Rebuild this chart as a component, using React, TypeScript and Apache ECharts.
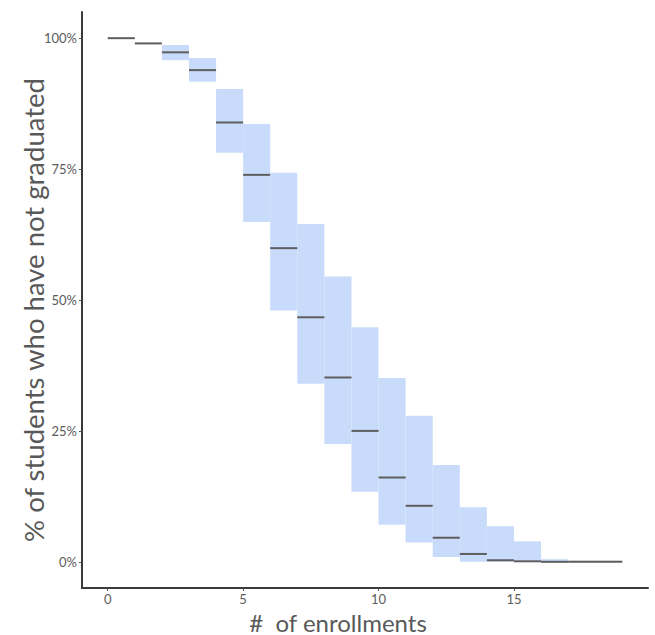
import React, { useEffect, useRef } from "react";
import * as echarts from "echarts";

// Step intervals (# of enrollments)
const stepStart = [0, 1, 2, 3, 4, 5, 6, 7, 8, 9, 10, 11, 12, 13, 14, 15, 16, 17];
const stepEnd = [1, 2, 3, 4, 5, 6, 7, 8, 9, 10, 11, 12, 13, 14, 15, 16, 17, 19];
// % of students who have not graduated (estimate)
const survival = [100, 99.0, 97.3, 93.9, 83.9, 73.9, 59.9, 46.7, 35.2, 25.0, 16.1, 10.7, 4.6, 1.5, 0.3, 0.1, 0, 0];
// confidence band
const upper = [100, 99.0, 98.7, 96.2, 90.3, 83.6, 74.3, 64.5, 54.5, 44.8, 35.1, 27.9, 18.5, 10.4, 6.8, 3.9, 0.5, 0.2];
const lower = [100, 99.0, 95.8, 91.7, 78.1, 64.9, 48.0, 34.0, 22.5, 13.4, 7.1, 3.7, 0.9, 0, 0, 0, 0, 0];

const xTicks = [0, 5, 10, 15];
const yTicks = [0, 25, 50, 75, 100];

const FONT = "Lato, 'Open Sans', sans-serif";

export default function App() {
  const ref = useRef<HTMLDivElement>(null);
  useEffect(() => {
    document.body.style.margin = "0";
    if (!ref.current) return;
    const chart = echarts.init(ref.current, undefined, { renderer: "svg" });
    const bandData = stepStart.map((s, i) => [s, stepEnd[i], lower[i], upper[i]]);
    const lineData = stepStart.map((s, i) => [s, stepEnd[i], survival[i]]);
    chart.setOption({
      animation: false,
      backgroundColor: "#ffffff",
      grid: { left: 82, right: 7, top: 12, bottom: 47, containLabel: false },
      xAxis: {
        type: "value",
        min: -0.95,
        max: 19.95,
        splitLine: { show: false },
        axisLine: { show: true, onZero: false, lineStyle: { color: "#3a3a3a", width: 2 } },
        axisTick: { show: true, length: 3, lineStyle: { color: "#555" }, customValues: xTicks },
        axisLabel: { customValues: xTicks, color: "#5c5c5c", fontSize: 13, fontFamily: FONT, margin: 4 },
      },
      yAxis: {
        type: "value",
        min: -5,
        max: 105,
        splitLine: { show: false },
        axisLine: { show: true, onZero: false, lineStyle: { color: "#3a3a3a", width: 2 } },
        axisTick: { show: true, length: 3, lineStyle: { color: "#555" }, customValues: yTicks },
        axisLabel: {
          customValues: yTicks,
          color: "#5c5c5c",
          fontSize: 13,
          fontFamily: FONT,
          margin: 5,
          formatter: (v: number) => `${v}%`,
        },
      },
      graphic: [
        {
          type: "text",
          x: 338,
          y: 622,
          style: {
            text: "#  of enrollments",
            fill: "#595959",
            fontSize: 24,
            fontFamily: FONT,
            align: "center",
            verticalAlign: "middle",
          },
        },
        {
          type: "text",
          x: 33,
          y: 310,
          rotation: Math.PI / 2,
          style: {
            text: "% of students who have not graduated",
            fill: "#595959",
            fontSize: 27.5,
            fontFamily: FONT,
            align: "center",
            verticalAlign: "middle",
          },
        },
      ],
      series: [
        {
          type: "custom",
          data: bandData,
          encode: { x: [0, 1], y: [2, 3] },
          renderItem: (_p: any, api: any) => {
            const lo = api.value(2);
            const hi = api.value(3);
            if (hi - lo <= 0) return null;
            const a = api.coord([api.value(0), hi]);
            const b = api.coord([api.value(1), lo]);
            return {
              type: "rect",
              shape: { x: a[0], y: a[1], width: b[0] - a[0], height: b[1] - a[1] },
              style: { fill: "#c9dbfb" },
            };
          },
        },
        {
          type: "custom",
          data: lineData,
          encode: { x: [0, 1], y: [2] },
          renderItem: (_p: any, api: any) => {
            const a = api.coord([api.value(0), api.value(2)]);
            const b = api.coord([api.value(1), api.value(2)]);
            return {
              type: "line",
              shape: { x1: a[0], y1: a[1], x2: b[0], y2: b[1] },
              style: { stroke: "#5e5e5e", lineWidth: 2 },
            };
          },
        },
      ],
    });
    return () => chart.dispose();
  }, []);
  return <div ref={ref} style={{ width: 655, height: 635 }} />;
}
